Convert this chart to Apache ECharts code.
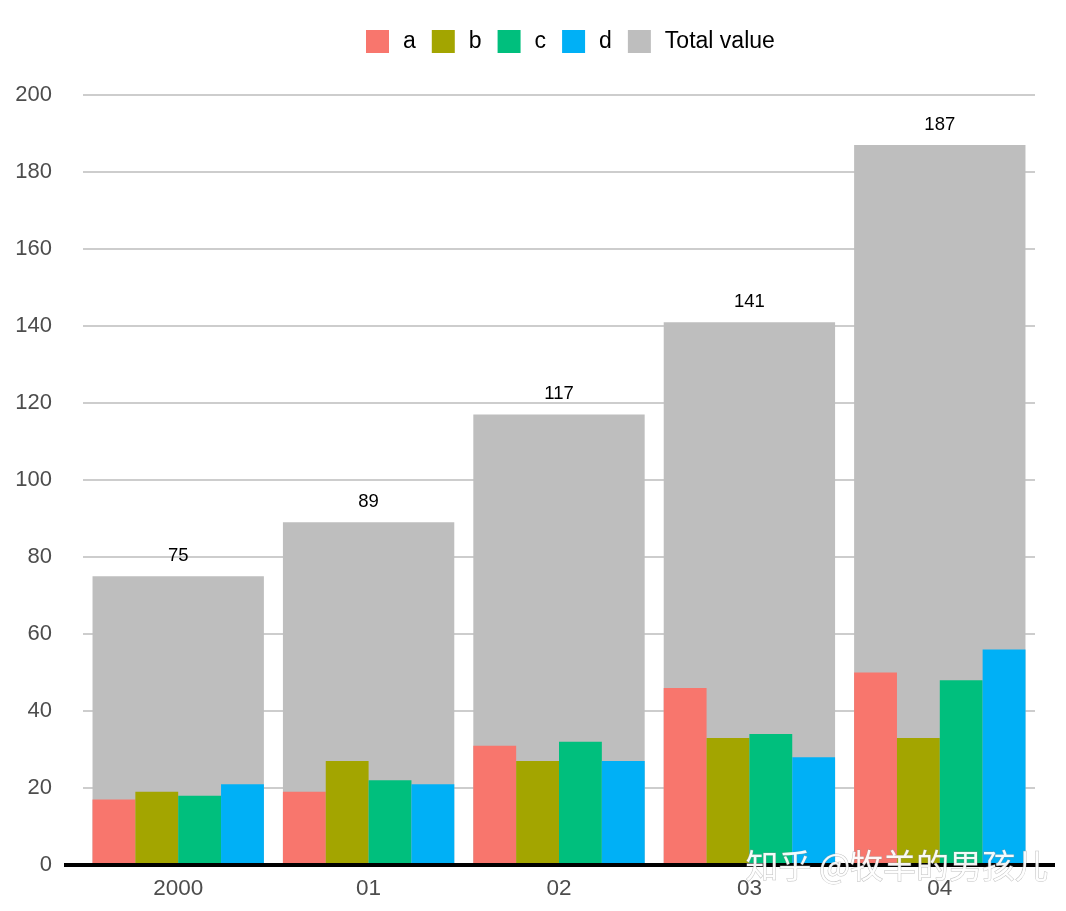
<!DOCTYPE html>
<html>
<head>
<meta charset="utf-8">
<script src="https://cdn.jsdelivr.net/npm/echarts@6/dist/echarts.min.js"></script>
<style>html,body{margin:0;padding:0;background:#fff;}#c{width:1066px;height:911px;}</style>
</head>
<body>
<div id="c"></div>
<script>
var categories = ['2000', '01', '02', '03', '04'];
var seriesA = [17, 19, 31, 46, 50];
var seriesB = [19, 27, 27, 33, 33];
var seriesC = [18, 22, 32, 34, 48];
var seriesD = [21, 21, 27, 28, 56];
var totalValue = [75, 89, 117, 141, 187];
var yTicks = [0, 20, 40, 60, 80, 100, 120, 140, 160, 180, 200];

var chart = echarts.init(document.getElementById('c'));
var font = 'Liberation Sans, Arial, sans-serif';
function bar(name, data, color) {
  return {
    name: name, type: 'bar', data: data, xAxisIndex: 0,
    itemStyle: { color: color }, barGap: '0%', barCategoryGap: '10%', z: 3
  };
}
chart.setOption({
  animation: false,
  textStyle: { fontFamily: font },
  legend: {
    top: 25, left: 361, itemWidth: 23, itemHeight: 23, itemGap: 16,
    icon: 'rect',
    textStyle: { fontSize: 23, color: '#000', fontFamily: font, padding: [0, 0, 0, 9] },
    data: ['a', 'b', 'c', 'd', 'Total value']
  },
  grid: { left: 83, right: 31, top: 95, bottom: 46, containLabel: false },
  xAxis: [
    {
      type: 'category', data: categories,
      axisLine: { show: false }, axisTick: { show: false },
      axisLabel: { fontSize: 22.5, color: '#4d4d4d', margin: 12, fontFamily: font }
    },
    {
      type: 'category', data: categories, show: false
    }
  ],
  yAxis: {
    type: 'value', min: yTicks[0], max: yTicks[yTicks.length - 1], interval: 20,
    axisLine: { show: false }, axisTick: { show: false },
    axisLabel: { fontSize: 22, color: '#4d4d4d', margin: 31, fontFamily: font },
    splitLine: { lineStyle: { color: '#bdbdbd', width: 1.5 } }
  },
  series: [
    bar('a', seriesA, '#F8766D'),
    bar('b', seriesB, '#A3A500'),
    bar('c', seriesC, '#00BF7D'),
    bar('d', seriesD, '#00B0F6'),
    {
      name: 'Total value', type: 'bar', data: totalValue, xAxisIndex: 1,
      itemStyle: { color: '#BEBEBE' }, barCategoryGap: '10%', z: 1,
      label: { show: true, position: 'top', distance: 11, fontSize: 18.5, color: '#000', fontFamily: font }
    }
  ],
  graphic: [
    {
      type: 'line', z: 10,
      shape: { x1: 64, y1: 865, x2: 1055, y2: 865 },
      style: { stroke: '#000', lineWidth: 4 }
    },
    {
      type: 'text', z: 20, left: 745, top: 848,
      style: {
        text: '知乎 @牧羊的男孩儿', fill: 'rgba(255,255,255,0.95)',
        font: '33px "Noto Sans CJK SC", sans-serif',
        stroke: 'rgba(150,150,150,0.6)', lineWidth: 1,
        shadowColor: 'rgba(0,0,0,0.75)', shadowBlur: 2, shadowOffsetX: 1.5, shadowOffsetY: 1.5
      }
    }
  ]
});
</script>
</body>
</html>
